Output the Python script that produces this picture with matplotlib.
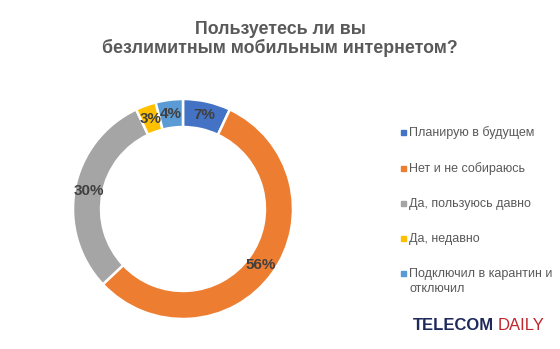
import matplotlib.pyplot as plt
import numpy as np

plt.rcParams['font.family'] = ['Liberation Sans', 'DejaVu Sans']

# Data
title_lines = ['Пользуетесь ли вы', 'безлимитным мобильным интернетом?']
categories = ['Планирую в будущем', 'Нет и не собираюсь', 'Да, пользуюсь давно',
              'Да, недавно', 'Подключил в карантин и\nотключил']
values = [7, 56, 30, 3, 4]
colors = ['#4472C4', '#ED7D31', '#A5A5A5', '#FFC000', '#5B9BD5']

fig = plt.figure(figsize=(5.6, 3.49), dpi=100)
W, H = 560, 349

# title, two lines placed by baseline
for line, base in zip(title_lines, [34, 53]):
    fig.text(0.5, 1 - base / H, line, ha='center', va='baseline', fontsize=12.8,
             fontweight='bold', color='#595959')

# donut
cx, cy, r = 183, 209, 110
ax = fig.add_axes([(cx - r) / W, (H - cy - r) / H, 2 * r / W, 2 * r / H])
ring = 0.255
wedges, _ = ax.pie(values, colors=colors, startangle=90, counterclock=False,
                   radius=1, wedgeprops=dict(width=ring, edgecolor='white', linewidth=1.8))
ax.set_xlim(-1, 1)
ax.set_ylim(-1, 1)
ax.set_aspect('equal')
ax.axis('off')

for w, v in zip(wedges, values):
    ang = np.deg2rad((w.theta1 + w.theta2) / 2)
    rr = 1 - ring / 2
    ax.text(rr * np.cos(ang), rr * np.sin(ang), f'{v}%', ha='center', va='center',
            fontsize=11, fontweight='bold', color='#404040')

# legend
ys = [132, 168, 203, 238, 273]
for c, lab, y in zip(colors, categories, ys):
    fig.patches.append(plt.Rectangle((401 / W, 1 - (y + 2.5) / H), 5 / W, 5 / H,
                                     transform=fig.transFigure, color=c))
    for i, part in enumerate(lab.split('\n')):
        fig.text(409 / W, 1 - (y + 4 + 15 * i) / H, part, ha='left', va='baseline',
                 fontsize=9, color='#595959')

# logo
t = fig.text(413 / W, 1 - 325 / H, 'TELECOM', ha='left', va='center',
             fontsize=12, fontweight='bold', color='#1F2A5A')
fig.canvas.draw()
bb = t.get_window_extent()
fig.text(bb.x1 / W + 4 / W, 1 - 325 / H, 'DAILY', ha='left', va='center',
         fontsize=12, color='#C0272D')

fig.savefig('out.png', dpi=100)
